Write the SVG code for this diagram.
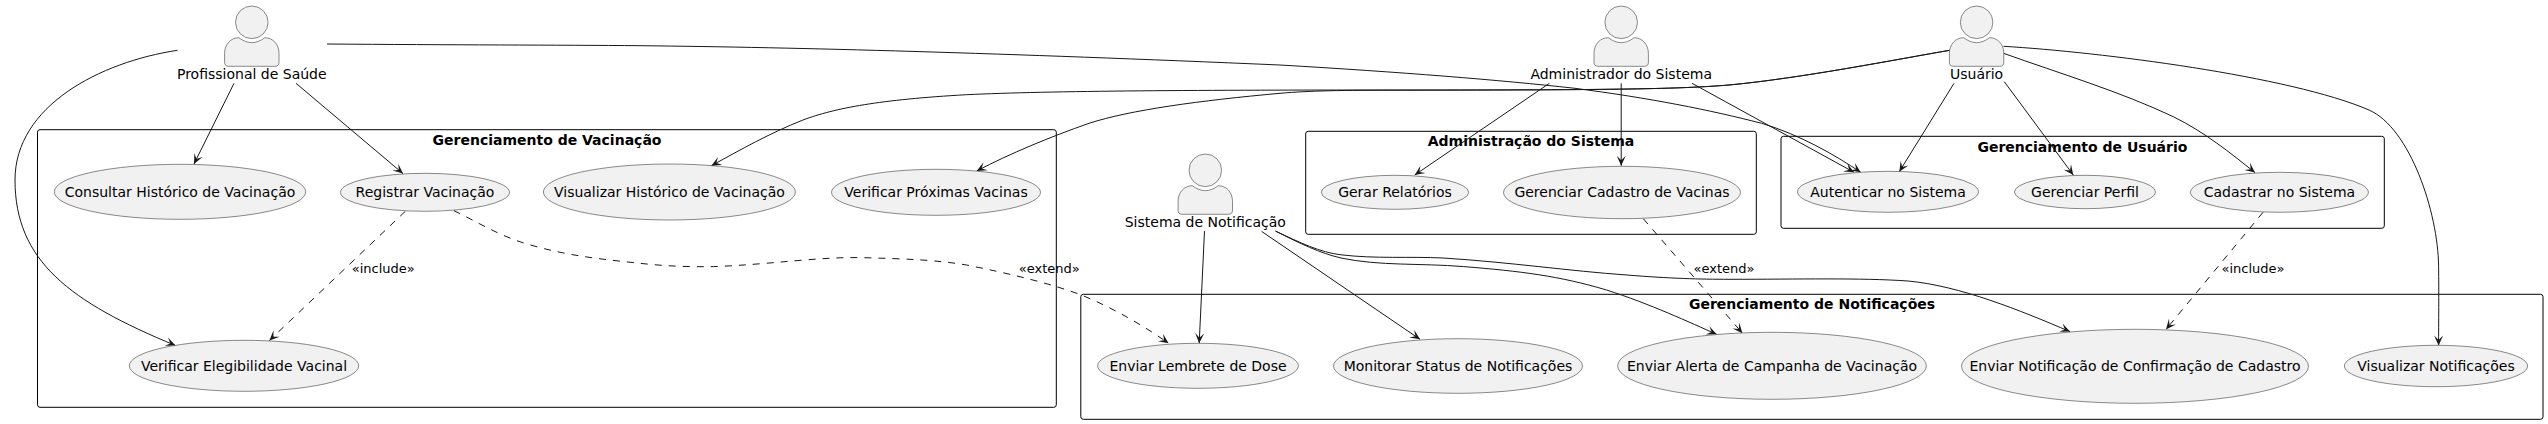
<svg xmlns="http://www.w3.org/2000/svg" width="2548" height="424" viewBox="0 0 2548 424">
<style>
text{font-family:"DejaVu Sans",sans-serif;font-size:14px;fill:#000;text-anchor:middle}
.frame{fill:none;stroke:#000;stroke-width:1}
.title{font-weight:bold}
.uc,.body,.head{fill:#F1F1F1;stroke:#181818;stroke-width:.5}
.edge{fill:none;stroke:#181818;stroke-width:1;marker-end:url(#arrow)}
.dash{stroke-dasharray:7 7}
.lab{font-size:13px;text-anchor:start}
</style>
<defs>
<marker id="arrow" viewBox="-11 -5 12 10" refX="0" refY="0" markerWidth="12" markerHeight="10" markerUnits="userSpaceOnUse" orient="auto"><path d="M-10,-4.500 L0,0 L-10,4.500 L-5.500,0 Z" fill="#181818"/></marker>
<g id="actor"><ellipse class="head" cx="0" cy="0" rx="16.300" ry="16.300"/><path class="body" d="M-27.200,40 V31 C-27.200,22 -21,15.400 -13,15.400 C-9,18.500 -4,20.400 0,20.400 C4,20.400 9,18.500 13,15.400 C21,15.400 27.200,22 27.200,31 V40 C27.200,42.500 26,44 23,44 H-23 C-26,44 -27.200,42.500 -27.200,40 Z"/></g>
</defs>
<rect width="2548" height="424" fill="#fff"/>
<g id="frame-vacinacao"><rect class="frame" x="37.500" y="129.700" width="1018.800" height="277.600" rx="2.500"/><text class="title" x="547" y="145">Gerenciamento de Vacinação</text></g>
<g id="frame-admin"><rect class="frame" x="1305.700" y="131.300" width="450.600" height="103" rx="2.500"/><text class="title" x="1531" y="146">Administração do Sistema</text></g>
<g id="frame-usuario"><rect class="frame" x="1781" y="136.300" width="603.300" height="92" rx="2.500"/><text class="title" x="2082.400" y="151.500">Gerenciamento de Usuário</text></g>
<g id="frame-notificacoes"><rect class="frame" x="1080.800" y="294.300" width="1462.200" height="125" rx="2.500"/><text class="title" x="1812" y="309">Gerenciamento de Notificações</text></g>
<g id="connectors">
<path class="edge" d="M177.500,50.300 C100,62 15,106 15,180 C15,261 70,302 175.500,345.500"/>
<path class="edge" d="M234,83.300 L194,164"/>
<path class="edge" d="M296,83.300 L403,173.600"/>
<path class="edge" d="M327,44 C450,45 560,45 640,45.700 C800,47.400 1000,53 1280,65 C1400,72 1500,80 1574,88.200 C1650,98 1710,110 1761.600,123.300 C1800,134.800 1835,155 1860.700,172.300"/>
<path class="edge" d="M1949.600,50.300 C1900,58.800 1800,78.400 1729,85 C1680,89 1620,90 1402,90 C1200,90 1050,90.700 966.500,94.700 C880,99.600 835,108 803,120 C770,133 740,150 711.400,165.700"/>
<path class="edge" d="M1949.600,50.300 C1900,58.800 1800,78.400 1729,85 C1680,89 1620,90 1402,90.200 C1340,90.200 1310,90.700 1280,93.300 C1200,100.500 1130,110 1089,123.300 C1050,137 1010,153.500 976.700,171"/>
<path class="edge" d="M1549.400,83.300 L1414.700,175"/>
<path class="edge" d="M1621.200,83.300 L1621.200,165.700"/>
<path class="edge" d="M1692,83.300 L1854,172.300"/>
<path class="edge" d="M1954,83.300 L1899.300,171.700"/>
<path class="edge" d="M2004.300,81.700 L2073.300,175"/>
<path class="edge" d="M2003.500,53.300 C2060,73.500 2120,91.500 2173.300,116.700 C2205,132.300 2230,152.700 2255,172.600"/>
<path class="edge" d="M2003.500,46.300 C2100,52 2290,76 2369,110 C2410,128 2438,212.300 2438.600,266.200 C2439,294 2438.600,322.600 2438.600,345.400"/>
<path class="edge dash" d="M405.300,211.300 L269.400,340.500"/>
<path class="edge dash" d="M453.900,210.700 C475,220.500 500,236.800 530.600,245 C570,256.400 605,259.500 640,263.300 C665,266.200 690,267 713.500,266.600 C770,264.600 820,256.400 864.500,257.700 C905,258.900 935,259.700 966.500,265 C1010,273.600 1050,283.400 1080.800,294.800 C1115,308.700 1145,326.700 1168.600,343.300"/>
<path class="edge" d="M1204.500,231 L1199.200,343.300"/>
<path class="edge" d="M1261.600,231.400 L1420,339.300"/>
<path class="edge" d="M1275.500,231.100 C1300,243.400 1320,253.200 1341,258 C1380,266.200 1420,263 1463.700,266.600 C1520,271.100 1560,276 1606.500,290 C1650,303.800 1690,322.600 1716.700,334.300"/>
<path class="edge" d="M1275.500,231.100 C1300,242.600 1320,252.400 1341,254.800 C1375,258.900 1410,256.400 1443,258 C1510,262.200 1570,271.100 1627,275 C1670,278.500 1700,279.300 1729,279.300 C1800,279.300 1860,277.700 1908,281 C1960,285.800 2020,310.300 2070,331.600"/>
<path class="edge dash" d="M1643.300,218.700 L1742.400,333.200"/>
<path class="edge dash" d="M2263,212.300 L2166,329.400"/>
<text class="lab" x="351.800" y="273.300">«include»</text>
<text class="lab" x="1018.800" y="273.300">«extend»</text>
<text class="lab" x="1693.500" y="273.300">«extend»</text>
<text class="lab" x="2221.500" y="273.300">«include»</text>
</g>
<g id="actor-profissional"><use href="#actor" x="251.800" y="22.300"/><text x="251.800" y="79">Profissional de Saúde</text></g>
<g id="actor-admin"><use href="#actor" x="1621.200" y="22.300"/><text x="1621.200" y="79">Administrador do Sistema</text></g>
<g id="actor-usuario"><use href="#actor" x="1976.600" y="22.300"/><text x="1976.600" y="79">Usuário</text></g>
<g id="actor-sistema"><use href="#actor" x="1205.300" y="170.300"/><text x="1205.300" y="227">Sistema de Notificação</text></g>
<g id="uc-consultar"><ellipse class="uc" cx="180" cy="191.800" rx="125.700" ry="27.500"/><text x="180" y="197">Consultar Histórico de Vacinação</text></g>
<g id="uc-registrar"><ellipse class="uc" cx="425" cy="192.300" rx="84.500" ry="19"/><text x="425" y="197">Registrar Vacinação</text></g>
<g id="uc-visualizar-historico"><ellipse class="uc" cx="669.400" cy="192" rx="126" ry="28"/><text x="669.400" y="197">Visualizar Histórico de Vacinação</text></g>
<g id="uc-proximas"><ellipse class="uc" cx="936" cy="192.300" rx="104.500" ry="23"/><text x="936" y="197">Verificar Próximas Vacinas</text></g>
<g id="uc-elegibilidade"><ellipse class="uc" cx="244" cy="365.800" rx="114.700" ry="25.500"/><text x="244" y="371">Verificar Elegibilidade Vacinal</text></g>
<g id="uc-relatorios"><ellipse class="uc" cx="1395" cy="192.300" rx="73.700" ry="17"/><text x="1395" y="197">Gerar Relatórios</text></g>
<g id="uc-cadastro-vacinas"><ellipse class="uc" cx="1622" cy="192.500" rx="118.500" ry="26.200"/><text x="1622" y="197">Gerenciar Cadastro de Vacinas</text></g>
<g id="uc-autenticar"><ellipse class="uc" cx="1888" cy="191.800" rx="90.500" ry="20.500"/><text x="1888" y="197">Autenticar no Sistema</text></g>
<g id="uc-perfil"><ellipse class="uc" cx="2085" cy="192" rx="70.600" ry="16.700"/><text x="2085" y="197">Gerenciar Perfil</text></g>
<g id="uc-cadastrar"><ellipse class="uc" cx="2279.400" cy="192.300" rx="89" ry="20"/><text x="2279.400" y="197">Cadastrar no Sistema</text></g>
<g id="uc-lembrete"><ellipse class="uc" cx="1198" cy="365.800" rx="100.400" ry="22.500"/><text x="1198" y="371">Enviar Lembrete de Dose</text></g>
<g id="uc-monitorar"><ellipse class="uc" cx="1458" cy="366" rx="124.500" ry="27.300"/><text x="1458" y="371">Monitorar Status de Notificações</text></g>
<g id="uc-alerta"><ellipse class="uc" cx="1772" cy="365.800" rx="154.400" ry="33.500"/><text x="1772" y="371">Enviar Alerta de Campanha de Vacinação</text></g>
<g id="uc-confirmacao"><ellipse class="uc" cx="2135" cy="366.300" rx="173.500" ry="37"/><text x="2135" y="371">Enviar Notificação de Confirmação de Cadastro</text></g>
<g id="uc-visualizar-notificacoes"><ellipse class="uc" cx="2436" cy="366" rx="91.600" ry="20.700"/><text x="2436" y="371">Visualizar Notificações</text></g>
</svg>
